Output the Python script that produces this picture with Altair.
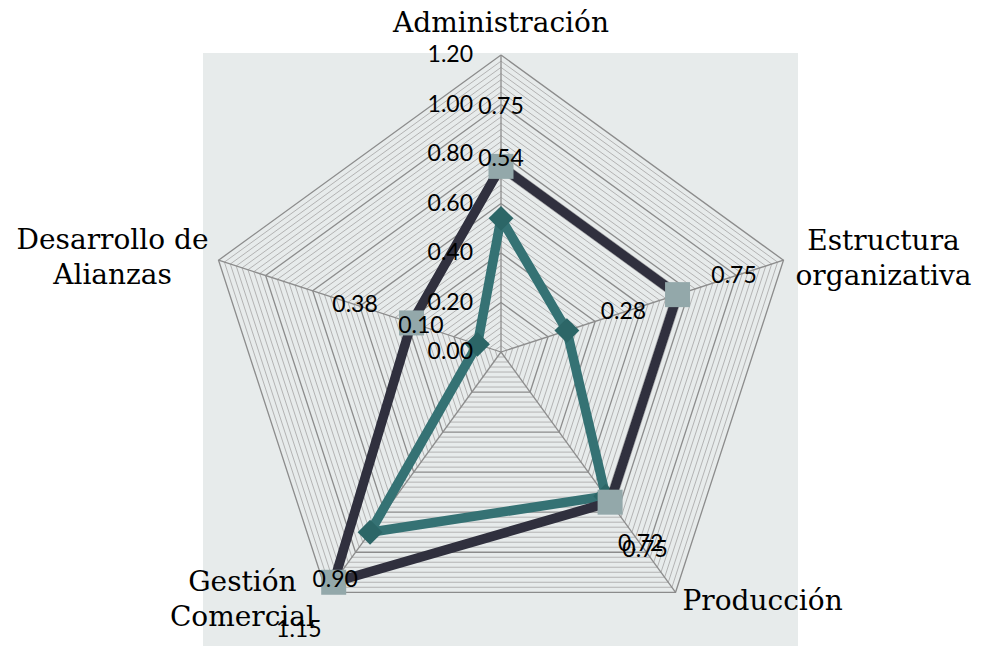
import numpy as np
import pandas as pd
import altair as alt

# ---- data ----
categories = ["Administración", "Estructura organizativa", "Producción",
              "Gestión Comercial", "Desarrollo de Alianzas"]
category_text = ["Administración", "Estructura\norganizativa", "Producción",
                 "Gestión\nComercial", "Desarrollo de\nAlianzas"]
serie_oscura = [0.75, 0.75, 0.75, 1.15, 0.38]
serie_verde = [0.54, 0.28, 0.72, 0.90, 0.10]
tick_values = [0.00, 0.20, 0.40, 0.60, 0.80, 1.00, 1.20]
tick_labels = ["0.00", "0.20", "0.40", "0.60", "0.80", "1.00", "1.20"]

R_MAX = 1.2
MINOR = 0.025
N = len(categories)


def polar(r, i):
    a = 2 * np.pi * i / N
    return r * np.sin(a), r * np.cos(a)


# grid rings
rows = []
nr = int(round(R_MAX / MINOR))
for k in range(1, nr + 1):
    r = k * MINOR
    for j in range(N + 1):
        x, y = polar(r, j % N)
        rows.append({"ring": k, "j": j, "x": x, "y": y, "major": k % 8 == 0})
rings = pd.DataFrame(rows)

spokes = pd.DataFrame([
    {"x": 0.0, "y": 0.0, "x2": polar(R_MAX, i)[0], "y2": polar(R_MAX, i)[1]}
    for i in range(N)
])


def series_df(vals):
    out = []
    for j in range(N + 1):
        i = j % N
        x, y = polar(vals[i], i)
        out.append({"j": j, "x": x, "y": y, "cat": categories[i], "v": vals[i]})
    return pd.DataFrame(out)


df_dark = series_df(serie_oscura)
df_teal = series_df(serie_verde)

LABEL_OFF = 0.24
lab_rows = []
for vals in (serie_verde, serie_oscura):
    for i in range(N):
        x, y = polar(vals[i] + LABEL_OFF, i)
        lab_rows.append({"x": x, "y": y, "t": f"{vals[i]:.2f}"})
val_labels = pd.DataFrame(lab_rows)

ticks = pd.DataFrame({"x": [0.0] * len(tick_values), "y": tick_values, "t": tick_labels})

# ---- scales: center and radius chosen to match the reference layout ----
W, H = 595, 593
PX = 297 / R_MAX
cx, cy = 298, 299
xs = alt.Scale(domain=[-cx / PX, (W - cx) / PX], nice=False, zero=False)
ys = alt.Scale(domain=[-(H - cy) / PX, cy / PX], nice=False, zero=False)
X = alt.X("x:Q", scale=xs, axis=None)
Y = alt.Y("y:Q", scale=ys, axis=None)

layers = []
layers.append(alt.Chart(rings[~rings.major]).mark_line(color="#b3b3b3", strokeWidth=1).encode(
    x=X, y=Y, detail="ring:N", order="j:Q"))
layers.append(alt.Chart(rings[rings.major]).mark_line(color="#8c8c8c", strokeWidth=1.3).encode(
    x=X, y=Y, detail="ring:N", order="j:Q"))
layers.append(alt.Chart(spokes).mark_rule(color="#8c8c8c", strokeWidth=1.3).encode(
    x=X, y=Y, x2="x2:Q", y2="y2:Q"))

layers.append(alt.Chart(df_teal).mark_line(color="#357274", strokeWidth=9.5, strokeJoin="round").encode(
    x=X, y=Y, order="j:Q"))
layers.append(alt.Chart(df_teal[df_teal.j < N]).mark_point(
    shape="diamond", filled=True, size=620, color="#2c6667", opacity=1).encode(x=X, y=Y))
layers.append(alt.Chart(df_dark).mark_line(color="#30303e", strokeWidth=9.5, strokeJoin="round").encode(
    x=X, y=Y, order="j:Q"))
layers.append(alt.Chart(df_dark[df_dark.j < N]).mark_point(
    shape="square", filled=True, size=625, color="#93a8aa", opacity=1).encode(x=X, y=Y))

layers.append(alt.Chart(ticks).mark_text(
    font="Lato", fontSize=23, align="right", baseline="middle", dx=-28, color="#000000").encode(
    x=X, y=Y, text="t:N"))
layers.append(alt.Chart(val_labels).mark_text(
    font="Lato", fontSize=23, align="center", baseline="middle", color="#000000").encode(
    x=X, y=Y, text="t:N"))

# category labels, offset from each outer vertex (first-line position)
cat_offsets = [(0, -31), (100, -18), (87, 10), (-84, -9), (-106, -19)]
for i in range(N):
    x, y = polar(R_MAX, i)
    d = pd.DataFrame({"x": [x], "y": [y], "t": [category_text[i]]})
    layers.append(alt.Chart(d).mark_text(
        font="DejaVu Serif", fontSize=28, align="center", baseline="middle",
        lineBreak="\n", lineHeight=35, dx=cat_offsets[i][0], dy=cat_offsets[i][1],
        color="#000000").encode(x=X, y=Y, text="t:N"))

chart = alt.layer(*layers).properties(
    width=W, height=H,
    padding={"left": 195, "top": 45, "right": 179, "bottom": 0},
    autosize="none",
).configure_view(fill="#e7ebeb", strokeWidth=0)

chart.save("out.html", embed_options={"renderer": "svg", "actions": False})
